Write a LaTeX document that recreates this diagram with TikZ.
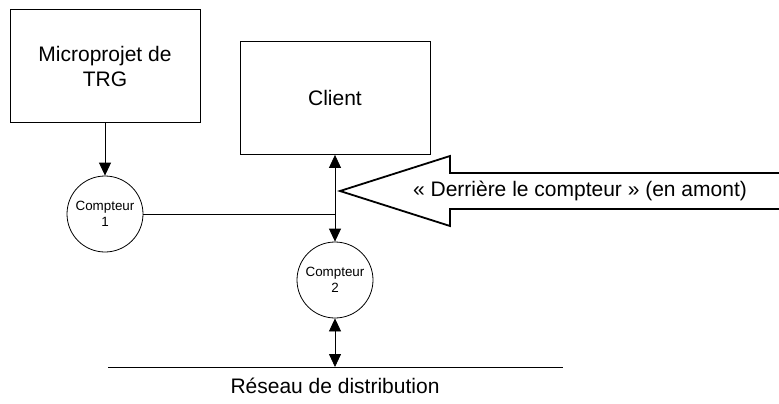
\documentclass[tikz,border=0pt]{standalone}
\usepackage{fontspec}
\setmainfont{Liberation Sans}
\usetikzlibrary{arrows.meta,positioning,calc}

\begin{document}
\begin{tikzpicture}[x=1pt, y=-1pt, line width=0.8pt, >={Triangle[length=13pt,width=12pt]},
    block/.style={draw, rectangle, minimum width=190pt, minimum height=113pt, inner sep=0pt, align=center, font=\fontsize{21}{25}\selectfont},
    meter/.style={draw, circle, minimum size=76pt, inner sep=0pt, align=center, font=\fontsize{13.4}{16}\selectfont}]
    \useasboundingbox (0,0) rectangle (779,404);

    \node[block] (micro) at (105,66) {Microprojet de\\TRG};
    \node[block] (client) at (335,98) {Client};
    \node[meter] (cpt1) at (105,214) {Compteur\\1};
    \node[meter] (cpt2) at (335,280) {Compteur\\2};

    \coordinate (netw) at (108,367);
    \coordinate (nete) at (563,367);
    \node[font=\fontsize{21}{25}\selectfont] (reseau) at (335,386) {Réseau de distribution};

    \draw[->] (micro.south) -- (cpt1.north);
    \draw (cpt1.east) -- (cpt1.east -| client.south);
    \draw[<->] (client.south) -- (cpt2.north);
    \draw[<->] (cpt2.south) -- (cpt2.south |- netw);
    \draw (netw) -- (nete);

    % grosse fleche
    \coordinate (tip) at (340,191);
    \draw[line width=1.8pt, line join=miter] (779,173) -- (450,173) -- (450,156) -- (tip) -- (450,226) -- (450,209) -- (779,209);
    \node[font=\fontsize{21}{25}\selectfont] (amont) at (580,191) {«~Derrière le compteur~» (en amont)};
\end{tikzpicture}
\end{document}
